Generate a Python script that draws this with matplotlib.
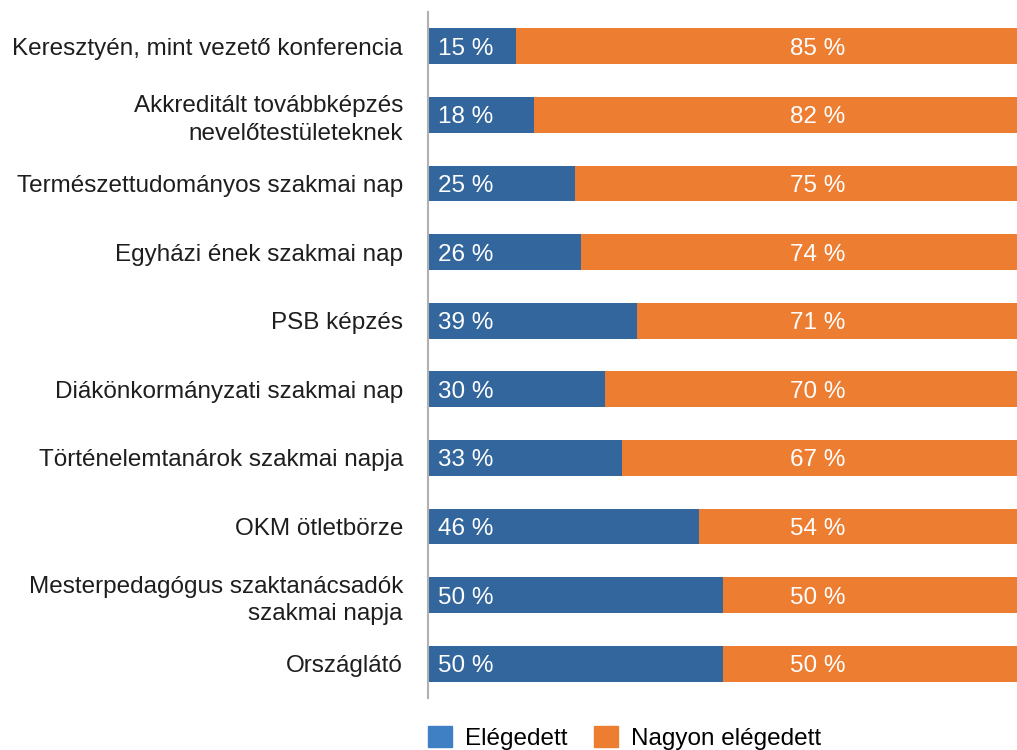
import numpy as np
import matplotlib
matplotlib.use("Agg")
import matplotlib.pyplot as plt
import matplotlib.transforms as mtransforms
from matplotlib.patches import Patch

plt.rcParams['font.family'] = ['Liberation Sans', 'DejaVu Sans']

categories = ["Keresztyén, mint vezető konferencia",
              "Akkreditált továbbképzés\nnevelőtestületeknek",
              "Természettudományos szakmai nap",
              "Egyházi ének szakmai nap",
              "PSB képzés",
              "Diákönkormányzati szakmai nap",
              "Történelemtanárok szakmai napja",
              "OKM ötletbörze",
              "Mesterpedagógus szaktanácsadók\nszakmai napja",
              "Országlátó"]
elegedett = [15, 18, 25, 26, 39, 30, 33, 46, 50, 50]
nagyon = [85, 82, 75, 74, 71, 70, 67, 54, 50, 50]

blue = '#33669c'
orange = '#ed7d31'
fs = 17.5

fig = plt.figure(figsize=(10.17, 7.5), dpi=100)
ax = fig.add_axes([428/1017, 52/750, 589/1017, 686/750])

e = np.array(elegedett, dtype=float)
n = np.array(nagyon, dtype=float)
tot = e + n
y = np.arange(len(categories))
ax.barh(y, e / tot, height=0.52, color=blue)
ax.barh(y, n / tot, left=e / tot, height=0.52, color=orange)

trans = mtransforms.blended_transform_factory(ax.transAxes, ax.transData)
for i in range(len(categories)):
    ax.text(0.017, y[i], f"{elegedett[i]} %", transform=trans, color='white',
            fontsize=fs, va='center_baseline', ha='left')
    ax.text(0.662, y[i], f"{nagyon[i]} %", transform=trans, color='white',
            fontsize=fs, va='center_baseline', ha='center')

ax.set_xlim(0, 1)
ax.set_ylim(len(categories) - 0.5, -0.5)
ax.set_yticks(y)
ax.set_yticklabels(categories, fontsize=fs, color='#1e1e1e', linespacing=1.3)
ax.tick_params(axis='y', length=0, pad=18)
ax.set_xticks([])
for s in ['top', 'right', 'bottom']:
    ax.spines[s].set_visible(False)
ax.spines['left'].set_color('#b0b0b0')
ax.spines['left'].set_linewidth(1.5)

handles = [Patch(color='#3f7fc3', label='Elégedett'),
           Patch(color=orange, label='Nagyon elégedett')]
fig.legend(handles=handles, loc='lower left', bbox_to_anchor=(406/1017, -0.029),
           ncol=2, frameon=False, fontsize=fs, handlelength=1.0, handleheight=1.0,
           columnspacing=1.07, handletextpad=0.53)

plt.savefig('out.png', dpi=100)
